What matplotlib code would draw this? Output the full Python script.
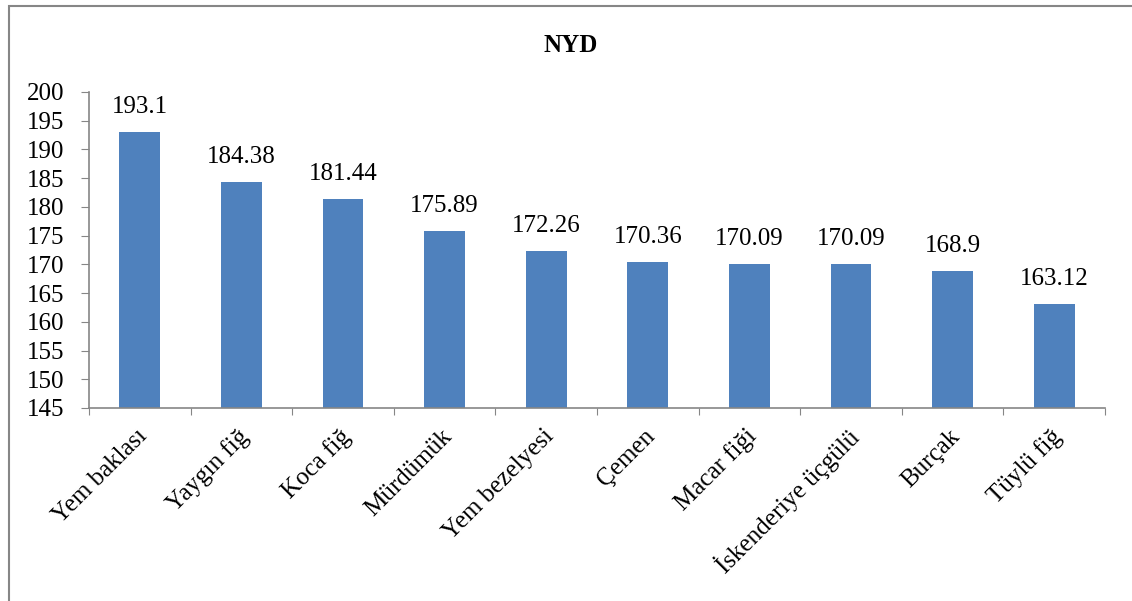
import matplotlib
matplotlib.use("Agg")
import matplotlib.pyplot as plt
from matplotlib.patches import Rectangle

categories = ["Yem baklası", "Yaygın fiğ", "Koca fiğ", "Mürdümük", "Yem bezelyesi",
              "Çemen", "Macar fiği", "İskenderiye üçgülü", "Burçak", "Tüylü fiğ"]
values = [193.1, 184.38, 181.44, 175.89, 172.26, 170.36, 170.09, 170.09, 168.9, 163.12]
value_labels = ["193.1", "184.38", "181.44", "175.89", "172.26", "170.36", "170.09", "170.09", "168.9", "163.12"]
yticks = list(range(145, 201, 5))

plt.rcParams['font.family'] = ['Liberation Serif', 'DejaVu Serif']

fig = plt.figure(figsize=(11.32, 6.01), dpi=100)
fig.patches.append(Rectangle((9/1132, -0.05), 1.2, 1 - 6/601 + 0.05, transform=fig.transFigure,
                             fill=False, edgecolor='#868686', linewidth=1.5))
ax = fig.add_axes([89/1132, 1 - 408/601, (1105 - 89)/1132, (408 - 92)/601])

x = list(range(len(categories)))
ax.bar(x, values, width=0.4, color='#4F81BD')
ax.set_ylim(145, 200)
ax.set_xlim(-0.5, len(categories) - 0.5)
ax.set_yticks(yticks)
ax.set_yticklabels([str(t) for t in yticks], fontsize=18)

for xi, v, lab in zip(x, values, value_labels):
    ax.annotate(lab, xy=(xi, v), xytext=(0, 10), textcoords='offset points',
                ha='center', va='bottom', fontsize=18)

ax.set_xticks([i - 0.5 for i in range(len(categories) + 1)])
ax.set_xticklabels([])
ax.tick_params(axis='x', length=5, color='#868686', direction='out')
ax.tick_params(axis='y', length=6, color='#868686', direction='out', pad=12)
for i, c in enumerate(categories):
    ax.annotate(c, xy=(i, 145), xycoords='data', xytext=(3, -18), textcoords='offset points',
                rotation=45, ha='right', va='center', rotation_mode='anchor', fontsize=18)

for s in ['top', 'right']:
    ax.spines[s].set_visible(False)
for s in ['left', 'bottom']:
    ax.spines[s].set_color('#868686')
    ax.spines[s].set_linewidth(1.2)

fig.text(571/1132, 1 - 45/601, "NYD", ha='center', va='center', fontsize=18, fontweight='bold')

fig.savefig("out.png", dpi=100)
